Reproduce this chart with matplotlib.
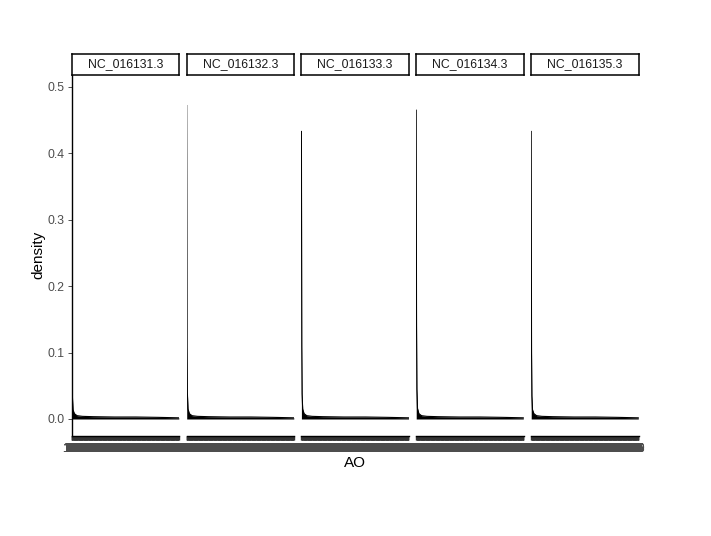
import numpy as np
import matplotlib
matplotlib.use("Agg")
import matplotlib.pyplot as plt

plt.rcParams["font.family"] = ["Liberation Sans", "DejaVu Sans"]

# facet names
chroms = ["NC_016131.3", "NC_016132.3", "NC_016133.3", "NC_016134.3", "NC_016135.3"]

# AO levels on the discrete x axis (factor order, as strings)
ao_levels = sorted(str(v) for v in range(1, 301))

# density curve, at fractions of the x range
frac = [0.0, 0.003, 0.006, 0.012, 0.025, 0.05, 0.1, 0.2, 0.4, 0.6, 0.8, 1.0]
dens = {
    "NC_016131.3": [0.495, 0.10, 0.035, 0.014, 0.008, 0.005, 0.004, 0.0035, 0.003, 0.003, 0.0025, 0.0018],
    "NC_016132.3": [0.472, 0.11, 0.040, 0.015, 0.008, 0.005, 0.004, 0.0035, 0.003, 0.003, 0.0025, 0.0018],
    "NC_016133.3": [0.433, 0.11, 0.038, 0.015, 0.008, 0.005, 0.004, 0.0035, 0.003, 0.003, 0.0025, 0.0018],
    "NC_016134.3": [0.465, 0.14, 0.045, 0.016, 0.008, 0.005, 0.004, 0.0035, 0.003, 0.003, 0.0025, 0.0018],
    "NC_016135.3": [0.433, 0.10, 0.035, 0.014, 0.008, 0.005, 0.004, 0.0035, 0.003, 0.003, 0.0025, 0.0018],
}
yticks = [0.0, 0.1, 0.2, 0.3, 0.4, 0.5]

W, H = 711, 536
fig = plt.figure(figsize=(W / 100, H / 100), dpi=100)

n = len(ao_levels)
xpos = np.arange(n)
lefts = [71.5, 186.5, 301.2, 416.0, 531.0]
pw = 107.5
ptop, pbot = 75, 436
stop = 53.5

for i, c in enumerate(chroms):
    l = lefts[i]
    ax = fig.add_axes([l / W, 1 - pbot / H, pw / W, (pbot - ptop) / H])
    x = np.array(frac) * (n - 1)
    y = np.array(dens[c])
    ax.fill_between(x, 0, y, color="black", lw=0)
    ax.plot(x, y, color="black", lw=0.8, solid_joinstyle="miter")
    ax.set_xlim(-0.6, n - 1 + 0.6)
    ax.set_ylim(-0.0256, 0.518)
    for s in ["top", "right"]:
        ax.spines[s].set_visible(False)
    ax.spines["bottom"].set_linewidth(1.0)
    ax.spines["bottom"].set_color("black")
    ax.set_xticks(xpos)
    ax.set_xticklabels(ao_levels, fontsize=8.8, color="#4D4D4D")
    ax.tick_params(axis="x", length=3.0, width=1.0, color="#333333", pad=2.2)
    if i == 0:
        ax.spines["left"].set_linewidth(1.0)
        ax.set_yticks(yticks)
        ax.set_yticklabels([f"{t:.1f}" for t in yticks], fontsize=8.8, color="#4D4D4D")
        ax.tick_params(axis="y", length=2.75, width=0.6, color="#333333", pad=2.2)
    else:
        ax.spines["left"].set_visible(False)
        ax.set_yticks([])

    # strip
    sx = fig.add_axes([l / W, 1 - ptop / H, pw / W, (ptop - stop) / H])
    sx.set_xticks([])
    sx.set_yticks([])
    for s in sx.spines.values():
        s.set_linewidth(1.1)
        s.set_color("black")
    sx.text(0.5, 0.5, c, ha="center", va="center", fontsize=8.8, color="#1A1A1A",
            transform=sx.transAxes)

fig.text(38 / W, 1 - 255 / H, "density", rotation=90, ha="center", va="center", fontsize=11)
fig.text(355 / W, 1 - 463 / H, "AO", ha="center", va="center", fontsize=11)

fig.savefig("out.png", dpi=100)
